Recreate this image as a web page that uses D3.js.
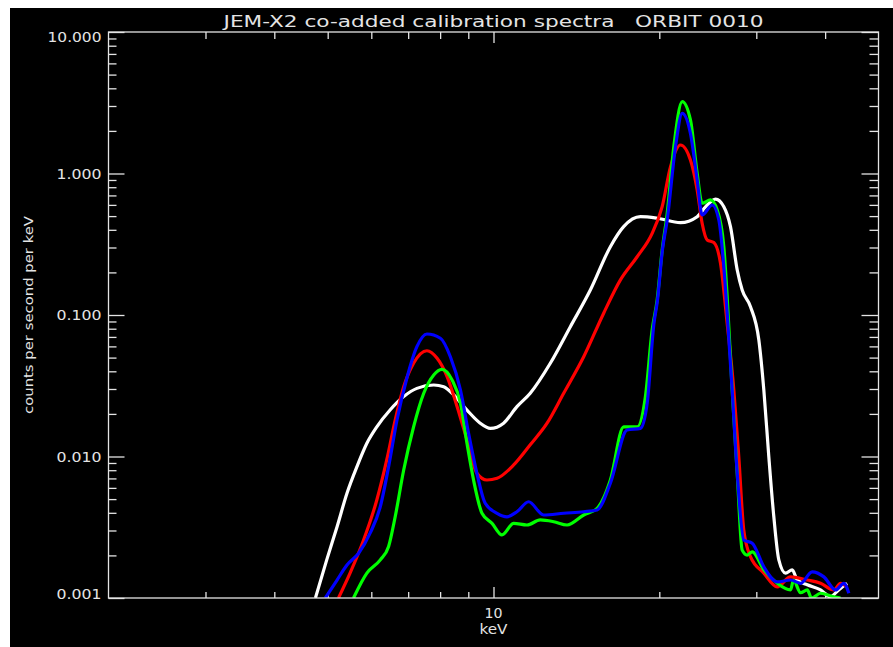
<!DOCTYPE html>
<html>
<head>
<meta charset="utf-8">
<script src="https://cdn.jsdelivr.net/npm/d3@7"></script>
<style>
  html, body { margin: 0; padding: 0; background: #ffffff; }
  svg { display: block; }
  text { font-family: "DejaVu Sans", sans-serif; fill: #e4e4e4; }
</style>
</head>
<body>
<svg></svg>
<script>
// chart texts
var title = 'JEM-X2 co-added calibration spectra   ORBIT 0010';
var xTitle = 'keV';
var yTitle = 'counts per second per keV';

// axis ticks
var xMajorTicks = [10];
var xMinorTicks = [3, 4, 5, 6, 7, 8, 9, 20, 30, 40];
var yMajorTicks = [0.001, 0.01, 0.1, 1, 10];
var yMajorLabels = ['0.001', '0.010', '0.100', '1.000', '10.000'];
var yMinorTicks = [];
[0.001, 0.01, 0.1, 1].forEach(d => {
    for (var k = 2; k <= 9; k++) yMinorTicks.push(k * d);
});

// series (keV, counts/s/keV)
var whiteEnergy = [4.75, 4.98, 5.20, 5.42, 5.65, 5.89, 6.14, 6.49, 6.87, 7.26, 7.79, 8.12, 8.47, 8.95, 9.46, 9.87,
    10.43, 11.03, 11.66, 12.68, 13.79, 14.99, 16.30, 17.23, 18.48, 19.82, 21.85, 23.43, 24.26, 25.30, 26.19, 26.93,
    27.70, 28.28, 29.28, 30.32, 30.96, 31.61, 32.28, 32.96, 33.90, 34.86, 35.60, 37.12, 39.24, 40.87, 42.32, 43.84];
var whiteRate = [0.00100, 0.00186, 0.00319, 0.00550, 0.00847, 0.0124, 0.0162, 0.0213, 0.0265, 0.0303, 0.0320, 0.0311,
    0.0272, 0.0213, 0.0172, 0.0158, 0.0172, 0.0225, 0.0280, 0.0456, 0.0827, 0.150, 0.304, 0.421, 0.495, 0.483, 0.449,
    0.495, 0.580, 0.660, 0.583, 0.421, 0.208, 0.150, 0.1145, 0.0666, 0.0295, 0.00997, 0.00375, 0.00186, 0.00150,
    0.00158, 0.00134, 0.00124, 0.00114, 0.00102, 0.00114, 0.00127];

var redEnergy = [5.23, 5.49, 5.81, 6.14, 6.40, 6.63, 6.87, 7.16, 7.57, 7.90, 8.24, 8.59, 8.95, 9.33, 9.73, 10.15,
    10.88, 11.66, 12.51, 13.41, 14.58, 15.85, 17.00, 18.23, 19.41, 20.24, 20.96, 21.85, 22.78, 23.43, 23.92, 24.43,
    25.12, 25.83, 26.56, 27.31, 27.88, 28.47, 29.28, 30.96, 32.74, 34.62, 37.12, 39.24, 41.49, 42.66, 43.84];
var redRate = [0.00100, 0.00150, 0.00257, 0.00493, 0.00945, 0.0181, 0.0311, 0.0456, 0.0559, 0.0494, 0.0366, 0.0225,
    0.0131, 0.00761, 0.00682, 0.00701, 0.00871, 0.0121, 0.0172, 0.0280, 0.0507, 0.103, 0.177, 0.258, 0.378, 0.583,
    1.117, 1.59, 1.246, 0.765, 0.445, 0.339, 0.325, 0.232, 0.0874, 0.0295, 0.00997, 0.00302, 0.00196, 0.00150,
    0.00120, 0.00141, 0.00134, 0.00127, 0.00114, 0.00127, 0.00120];

var greenEnergy = [5.57, 5.89, 6.23, 6.45, 6.63, 6.87, 7.16, 7.47, 7.79, 8.06, 8.41, 8.71, 8.95, 9.20, 9.53, 9.94,
    10.36, 10.88, 11.50, 12.16, 12.86, 13.60, 14.58, 15.42, 16.30, 17.23, 18.23, 18.87, 19.41, 19.82, 20.24, 20.67,
    21.25, 22.01, 22.78, 23.43, 23.92, 24.77, 25.48, 26.19, 26.56, 27.12, 27.70, 28.28, 28.88, 29.49, 30.96, 32.74,
    34.62, 35.04, 36.10, 37.12, 37.79, 39.24, 41.49, 42.66];
var greenRate = [0.00100, 0.00150, 0.00186, 0.00231, 0.00375, 0.00802, 0.0162, 0.0280, 0.0377, 0.0413, 0.0347,
    0.0238, 0.0124, 0.00682, 0.00397, 0.00337, 0.00279, 0.00337, 0.00328, 0.00356, 0.00346, 0.00328, 0.00386,
    0.00430, 0.00682, 0.0162, 0.0162, 0.0265, 0.0783, 0.128, 0.288, 0.523, 1.547, 3.22, 2.39, 1.003, 0.616, 0.650,
    0.552, 0.304, 0.135, 0.0295, 0.00761, 0.00218, 0.00201, 0.00212, 0.00158, 0.00127, 0.00114, 0.00134, 0.00109,
    0.00114, 0.00100, 0.00108, 0.00102, 0.00100];

var blueEnergy = [4.95, 5.20, 5.42, 5.69, 5.97, 6.23, 6.45, 6.68, 6.96, 7.26, 7.57, 8.01, 8.35, 8.71, 9.01, 9.33,
    9.66, 10.15, 10.58, 11.03, 11.58, 12.33, 13.41, 14.58, 15.42, 16.30, 17.48, 18.48, 19.01, 19.54, 19.85, 20.26,
    20.67, 21.40, 22.01, 22.78, 23.43, 23.92, 24.95, 25.65, 26.19, 26.56, 27.12, 27.70, 28.47, 29.49, 30.96, 32.74,
    34.62, 36.10, 37.90, 39.79, 41.79, 43.26, 44.17];
var blueRate = [0.00100, 0.00134, 0.00171, 0.00207, 0.00287, 0.00442, 0.00847, 0.0181, 0.0357, 0.0597, 0.0734,
    0.0685, 0.0507, 0.0295, 0.0146, 0.00761, 0.00467, 0.00397, 0.00375, 0.00407, 0.00479, 0.00386, 0.00397, 0.00407,
    0.00419, 0.00647, 0.0154, 0.0158, 0.0238, 0.0850, 0.128, 0.288, 0.469, 1.547, 2.66, 1.92, 0.900, 0.509, 0.599,
    0.469, 0.220, 0.103, 0.0295, 0.00761, 0.00257, 0.00244, 0.00166, 0.00130, 0.00134, 0.00127, 0.00153, 0.00141,
    0.00114, 0.00127, 0.00108];

var series = [
    { color: '#ffffff', energy: whiteEnergy, rate: whiteRate },
    { color: '#ff0000', energy: redEnergy, rate: redRate },
    { color: '#00ff00', energy: greenEnergy, rate: greenRate },
    { color: '#0000ff', energy: blueEnergy, rate: blueRate }
];

var width = 893;
var height = 647;
var plotLeft = 108.5, plotRight = 878.5, plotTop = 32, plotBottom = 598;
var axisColor = '#e4e4e4';

var svg = d3.select('svg')
    .attr('width', width)
    .attr('height', height);

// black plotting window
svg.append('rect')
    .attr('x', 10).attr('y', 8)
    .attr('width', width - 10).attr('height', height - 8)
    .attr('fill', '#000000');

var xScale = d3.scaleLog().domain([2, 50]).range([plotLeft, plotRight]);
var yScale = d3.scaleLog().domain([0.001, 10]).range([plotBottom, plotTop]);

svg.append('defs').append('clipPath').attr('id', 'plotclip')
    .append('rect')
    .attr('x', plotLeft).attr('y', plotTop)
    .attr('width', plotRight - plotLeft).attr('height', plotBottom - plotTop);

function tickAxis(axis, values, size, tx, ty) {
    var g = svg.append('g')
        .attr('transform', `translate(${tx},${ty})`)
        .call(axis.tickValues(values).tickSizeInner(size).tickSizeOuter(0).tickFormat(''));
    g.select('.domain').remove();
    g.selectAll('line').attr('stroke', axisColor).attr('stroke-width', 1.3);
    g.selectAll('text').remove();
    return g;
}

// bottom and top
tickAxis(d3.axisBottom(xScale), xMajorTicks, -11, 0, plotBottom);
tickAxis(d3.axisBottom(xScale), xMinorTicks, -6, 0, plotBottom);
tickAxis(d3.axisTop(xScale), xMajorTicks, -11, 0, plotTop);
tickAxis(d3.axisTop(xScale), xMinorTicks, -7, 0, plotTop);
// left and right
tickAxis(d3.axisLeft(yScale), yMajorTicks, -16, plotLeft, 0);
tickAxis(d3.axisLeft(yScale), yMinorTicks, -8, plotLeft, 0);
tickAxis(d3.axisRight(yScale), yMajorTicks, -17, plotRight, 0);
tickAxis(d3.axisRight(yScale), yMinorTicks, -9, plotRight, 0);

// curves
var line = d3.line()
    .curve(d3.curveMonotoneX)
    .x(d => xScale(d[0]))
    .y(d => yScale(d[1]));

var curves = svg.append('g').attr('clip-path', 'url(#plotclip)');
series.forEach(s => {
    curves.append('path')
        .datum(s.energy.map((e, i) => [e, s.rate[i]]))
        .attr('d', line)
        .attr('fill', 'none')
        .attr('stroke', s.color)
        .attr('stroke-width', 3.2)
        .attr('stroke-linejoin', 'round');
});

// frame
svg.append('rect')
    .attr('x', plotLeft).attr('y', plotTop)
    .attr('width', plotRight - plotLeft).attr('height', plotBottom - plotTop)
    .attr('fill', 'none')
    .attr('stroke', axisColor)
    .attr('stroke-width', 1.3);

// y tick labels
var yLabelShift = { 0.001: -4, 10: 5 };
svg.append('g').selectAll('text')
    .data(yMajorTicks)
    .enter().append('text')
    .attr('x', 101.5)
    .attr('y', d => yScale(d) + 5 + (yLabelShift[d] || 0))
    .attr('text-anchor', 'end')
    .attr('font-size', 14)
    .attr('textLength', (d, i) => 9 * yMajorLabels[i].length)
    .attr('lengthAdjust', 'spacingAndGlyphs')
    .text((d, i) => yMajorLabels[i]);

// x tick label
svg.append('g').selectAll('text')
    .data(xMajorTicks)
    .enter().append('text')
    .attr('x', d => xScale(d))
    .attr('y', 618)
    .attr('text-anchor', 'middle')
    .attr('font-size', 14)
    .attr('textLength', 18)
    .attr('lengthAdjust', 'spacingAndGlyphs')
    .text(d => d);

svg.append('text')
    .attr('x', xScale(10))
    .attr('y', 634)
    .attr('text-anchor', 'middle')
    .attr('font-size', 14)
    .attr('textLength', 28)
    .attr('lengthAdjust', 'spacingAndGlyphs')
    .text(xTitle);

svg.append('text')
    .attr('transform', `translate(33,${(plotTop + plotBottom) / 2}) rotate(-90)`)
    .attr('text-anchor', 'middle')
    .attr('font-size', 13)
    .attr('textLength', 198)
    .attr('lengthAdjust', 'spacingAndGlyphs')
    .text(yTitle);

svg.append('text')
    .attr('x', (plotLeft + plotRight) / 2)
    .attr('y', 27)
    .attr('text-anchor', 'middle')
    .attr('font-size', 16)
    .attr('textLength', 540)
    .attr('lengthAdjust', 'spacingAndGlyphs')
    .style('white-space', 'pre')
    .text(title);
</script>
</body>
</html>
